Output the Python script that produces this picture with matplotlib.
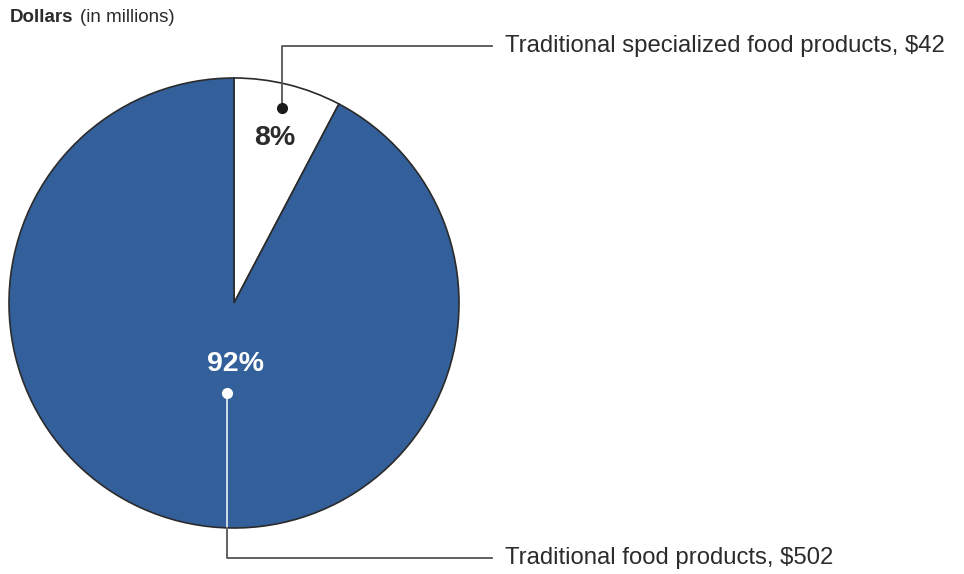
import matplotlib.pyplot as plt

plt.rcParams['font.family'] = ['Liberation Sans', 'DejaVu Sans']

labels = ['Traditional specialized food products, $42', 'Traditional food products, $502']
values = [42, 502]
pct_labels = ['8%', '92%']
colors = ['white', '#33609b']

W, H = 964, 574
fig = plt.figure(figsize=(W / 100, H / 100), dpi=100)
ax = fig.add_axes([0, 0, 1, 1])

cx, cy, r = 234, H - 303, 225
ax.pie(values, colors=colors, startangle=90, counterclock=False,
       center=(cx, cy), radius=r, frame=True,
       wedgeprops=dict(edgecolor='#2b2b2b', linewidth=1.2))
ax.set_xlim(0, W)
ax.set_ylim(0, H)
ax.set_aspect('equal')
ax.axis('off')

txt = '#2b2b2b'
line = '#555555'

# small slice label
ax.text(275, H - 138, pct_labels[0], ha='center', va='center',
        fontsize=20.5, fontweight='bold', color=txt)
ax.plot([282, 282, 492], [H - 108, H - 46, H - 46], color=line, lw=1.3)
ax.plot(282, H - 108, 'o', color='#1a1a1a', ms=7)
ax.text(505, H - 46, labels[0], ha='left', va='center', fontsize=17.2, color=txt)

# big slice label
ax.text(235, H - 364, pct_labels[1], ha='center', va='center',
        fontsize=20.5, fontweight='bold', color='white')
ax.plot([227, 227], [H - 393, H - 528], color='#dde6f0', lw=1.3)
ax.plot([227, 227, 492], [H - 528, H - 558, H - 558], color=line, lw=1.3)
ax.plot(227, H - 393, 'o', color='white', ms=7)
ax.text(505, H - 558, labels[1], ha='left', va='center', fontsize=17.2, color=txt)

ax.text(10, H - 18, 'Dollars', ha='left', va='center', fontsize=13.5,
        fontweight='bold', color=txt)
ax.text(80, H - 18, '(in millions)', ha='left', va='center', fontsize=13.5, color=txt)

fig.savefig('out.png', dpi=100)
